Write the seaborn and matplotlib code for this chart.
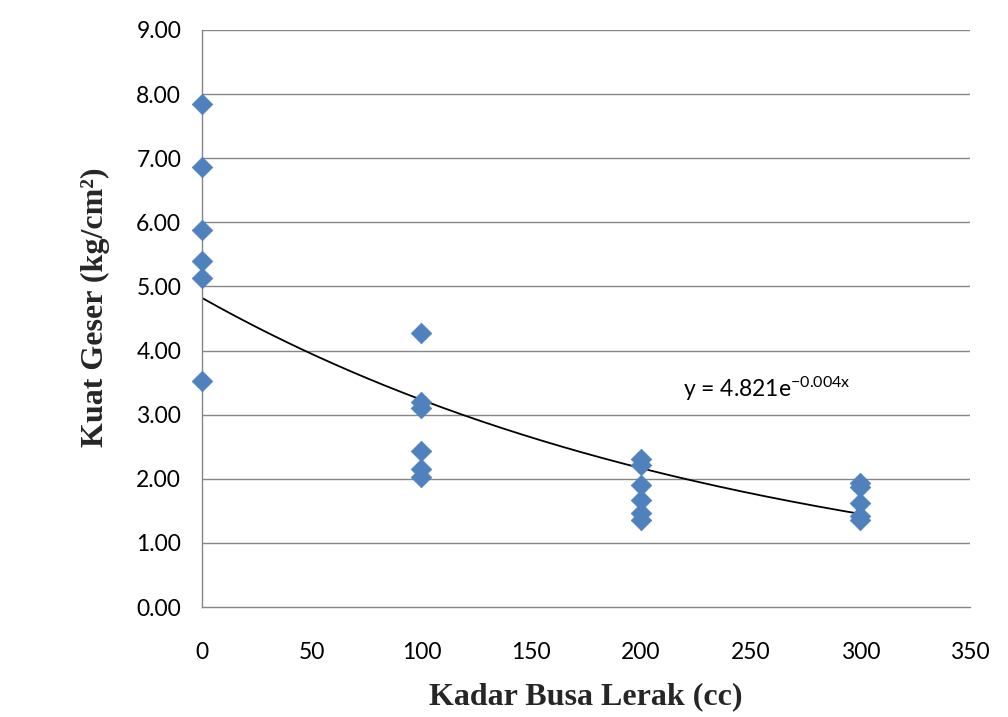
import numpy as np
import pandas as pd
import matplotlib
matplotlib.use("Agg")
import matplotlib.pyplot as plt
import seaborn as sns

# Foam content (cc) and measured shear strength (kg/cm²)
kadar_0 = [7.85, 6.87, 5.88, 5.40, 5.13, 3.52]
kadar_100 = [4.27, 3.19, 3.10, 2.43, 2.16, 2.02]
kadar_200 = [2.31, 2.21, 1.91, 1.67, 1.46, 1.35]
kadar_300 = [1.94, 1.87, 1.63, 1.42, 1.36]
x_levels = [0, 100, 200, 300]

# Exponential trend line coefficients
trend_a = 4.821
trend_b = -0.004

groups = [kadar_0, kadar_100, kadar_200, kadar_300]
df = pd.DataFrame({
    "x": np.concatenate([[lvl] * len(g) for lvl, g in zip(x_levels, groups)]),
    "y": np.concatenate(groups),
})

sns.set_style("white")
plt.rcParams["font.family"] = ["Lato", "DejaVu Sans"]
plt.rcParams["mathtext.fontset"] = "custom"
plt.rcParams["mathtext.rm"] = "Lato"
plt.rcParams["mathtext.it"] = "Lato"
plt.rcParams["mathtext.default"] = "regular"

fig = plt.figure(figsize=(10.08, 7.17), dpi=100)
ax = fig.add_axes([0.2004, 0.1534, 0.7619, 0.8048])

grid_c = "#868686"
for yv in np.arange(1, 10, 1):
    ax.axhline(yv, color=grid_c, lw=1.0, zorder=0)

xt = np.linspace(0, 300, 200)
sns.lineplot(x=xt, y=trend_a * np.exp(trend_b * xt), ax=ax, color="black",
             lw=1.3, zorder=2)

sns.scatterplot(data=df, x="x", y="y", ax=ax, marker="D", s=110,
                color="#4F81BD", edgecolor="#4F81BD", linewidth=0.5,
                zorder=3, clip_on=False)

ax.set_xlim(0, 350)
ax.set_ylim(0, 9)
ax.set_xticks(np.arange(0, 351, 50))
ax.set_yticks(np.arange(0, 9.01, 1))
ax.set_yticklabels([f"{v:.2f}" for v in np.arange(0, 9.01, 1)])

for side in ["top", "right"]:
    ax.spines[side].set_visible(False)
for side in ["left", "bottom"]:
    ax.spines[side].set_color(grid_c)
    ax.spines[side].set_linewidth(1.0)

ax.tick_params(axis="both", which="both", direction="out", length=5,
               width=1.0, color=grid_c, labelsize=16.5, labelcolor="black")
ax.tick_params(axis="x", pad=20)
ax.tick_params(axis="y", pad=10)

ax.set_xlabel("Kadar Busa Lerak (cc)", family="Liberation Serif",
              fontweight="bold", fontsize=23, labelpad=14)
ax.set_ylabel("Kuat Geser (kg/cm²)", family="Liberation Serif",
              fontweight="bold", fontsize=23, labelpad=14)
ax.yaxis.set_label_coords(-0.12, 0.52)

ax.text(219, 3.28, "y = 4.821e$^{-0.004x}$", fontsize=16.5, color="black")

fig.savefig("out.png", dpi=100)
